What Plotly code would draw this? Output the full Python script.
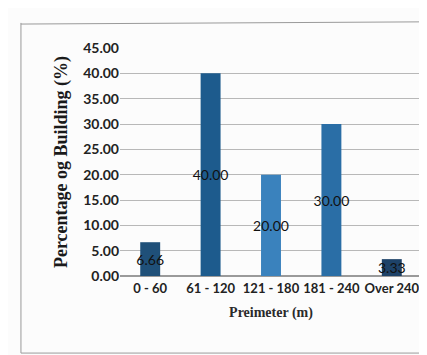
import plotly.graph_objects as go

categories = ["0 - 60", "61 - 120", "121 - 180", "181 - 240", "Over 240"]
values = [6.67, 40.00, 20.00, 30.00, 3.33]
labels = ["6.66", "40.00", "20.00", "30.00", "3.33"]
bar_colors = ["#1f5079", "#1d5b8d", "#3a82bd", "#2a6ea6", "#1d4268"]

fig = go.Figure()
fig.add_trace(go.Bar(
    x=categories, y=values, text=labels,
    textposition="inside", insidetextanchor="middle", constraintext="none",
    textangle=0,
    textfont=dict(family="Lato, Open Sans, sans-serif", size=14, color="#111111"),
    marker=dict(color=bar_colors, line=dict(width=0)),
    cliponaxis=False,
))

fig.update_layout(
    width=427, height=355,
    margin=dict(l=112, r=13, t=40, b=87),
    paper_bgcolor="#fcfcfc", plot_bgcolor="#fcfcfc",
    bargap=0.67,
    showlegend=False,
    font=dict(family="Lato, Open Sans, sans-serif", color="#2a2a2a"),
    xaxis=dict(
        tickangle=0, showgrid=False, showline=True, linecolor="#9a9a9a", linewidth=1,
        tickfont=dict(size=13, color="#222222", weight="bold"), ticks="",
        title=dict(text="<b>Preimeter (m)</b>",
                   font=dict(family="Liberation Serif, serif", size=14, color="#2a2a2a"),
                   standoff=12),
    ),
    yaxis=dict(
        range=[0, 45], dtick=5, tickformat=".2f",
        showgrid=True, gridcolor="#b8b8b8", gridwidth=1,
        zeroline=True, zerolinecolor="#9a9a9a",
        showline=False, ticks="",
        tickfont=dict(size=14, color="#222222", weight="bold"),
        title=dict(text="<b>Percentage og Building (%)</b>",
                   font=dict(family="Liberation Serif, serif", size=18, color="#1a1a1a"),
                   standoff=10),
    ),
    shapes=[
        dict(type="line", xref="paper", yref="paper", x0=-0.328, x1=1.043, y0=1.105, y1=1.115,
             line=dict(color="#9a9a9a", width=1)),
        dict(type="line", xref="paper", yref="paper", x0=-0.328, x1=-0.328, y0=1.11, y1=-0.338,
             line=dict(color="#9a9a9a", width=1)),
        dict(type="line", xref="paper", yref="paper", x0=-0.328, x1=1.043, y0=-0.338, y1=-0.338,
             line=dict(color="#9a9a9a", width=1)),
    ],
)

fig.write_html("out.html")
